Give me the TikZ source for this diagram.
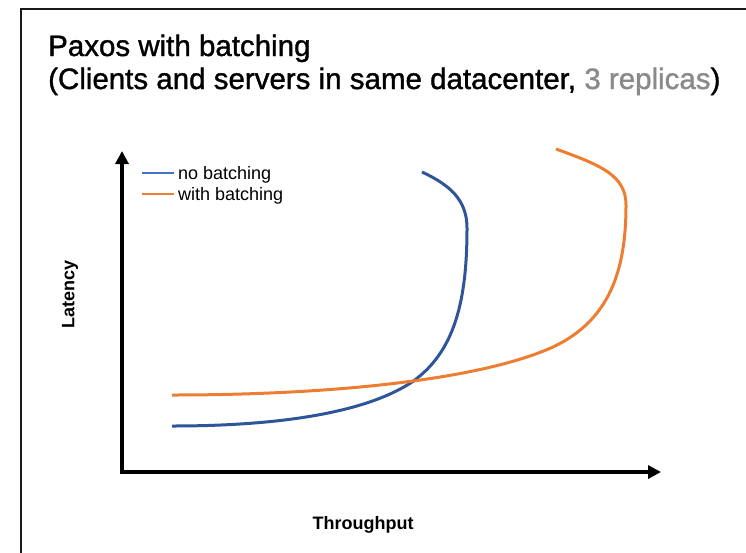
\documentclass[tikz,border=0pt]{standalone}
\usepackage{fontspec}
\setmainfont{Liberation Sans}
\newfontfamily\titlefont[FakeBold=1.2]{Liberation Sans}
\usetikzlibrary{positioning,arrows.meta}
\definecolor{nobatch}{HTML}{2E5597}
\definecolor{nobatchkey}{HTML}{4472C4}
\definecolor{withbatch}{HTML}{ED7D31}
\definecolor{replicagray}{HTML}{8A8A8A}

\begin{document}
\begin{tikzpicture}[x=1pt,y=-1pt]
\tikzstyle{axis}=[line width=4pt,line join=miter,{Triangle[length=13pt,width=13pt]}-{Triangle[length=13pt,width=13pt]}]
\tikzstyle{curve}=[line width=3pt]
\tikzstyle{heading}=[anchor=base west,inner sep=0pt,font=\titlefont\fontsize{29.5}{34}\selectfont]
\tikzstyle{key}=[anchor=base west,inner sep=0pt,font=\fontsize{18}{22}\selectfont]
\tikzstyle{label}=[inner sep=0pt,font=\fontsize{18}{22}\selectfont\bfseries]
\useasboundingbox (0,0) rectangle (746,552);
\draw[line width=2.5pt,black!90] (21,570) -- (21,9) -- (770,9);
\node[heading] (title) at (48,56) {Paxos with batching};
\node[heading] (subtitle) at (48,89)
  {(Clients and servers in same datacenter, \textcolor{replicagray}{3 replicas})};
% axes
\coordinate (ytop) at (122,151);
\coordinate (origin) at (122,472);
\coordinate (xend) at (661,472);
\draw[axis] (ytop) -- (origin) -- (xend);
\node[label,rotate=90] (latency) at (70,294) {Latency};
\node[label] (throughput) at (363,525) {Throughput};
% legend
\node[key] (nokey) at (178,179) {no batching};
\node[key] (withkey) at (178,200) {with batching};
\draw[nobatchkey,line width=2pt] (142,173) -- (174,173);
\draw[withbatch,line width=2pt] (142,194) -- (174,194);
% curves
\draw[curve,nobatch] (172,426) .. controls (290,426) and (370,410) .. (412,382)
  .. controls (455,352) and (467,300) .. (467,228) .. controls (467,200) and (450,185) .. (422,172);
\draw[curve,withbatch] (172,395) .. controls (330,395) and (480,380) .. (553,347)
  .. controls (610,320) and (626,270) .. (626,205) .. controls (626,175) and (600,165) .. (556,149);
\end{tikzpicture}
\end{document}
